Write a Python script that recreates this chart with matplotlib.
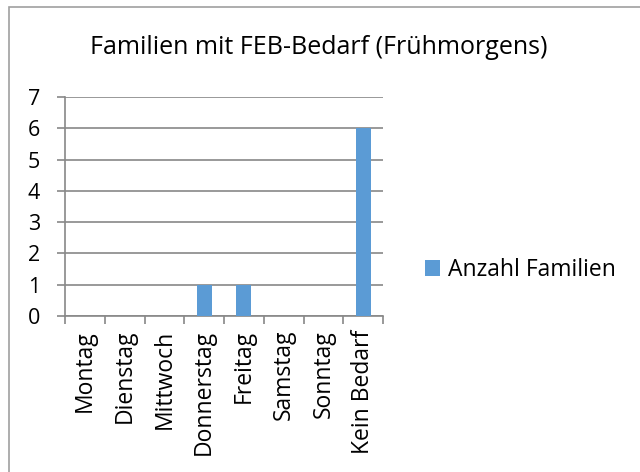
import numpy as np
import matplotlib.pyplot as plt
from matplotlib.patches import Rectangle

# Data
categories = ['Montag', 'Dienstag', 'Mittwoch', 'Donnerstag', 'Freitag',
              'Samstag', 'Sonntag', 'Kein Bedarf']
values = [0, 0, 0, 1, 1, 0, 0, 6]
series_name = 'Anzahl Familien'
title = 'Familien mit FEB-Bedarf (Frühmorgens)'

plt.rcParams['font.family'] = ['Open Sans', 'DejaVu Sans']
grey = '#888888'
blue = '#5B9BD5'

fig = plt.figure(figsize=(6.4, 4.72), dpi=100)
W, H = 640, 472

# outer chart frame (only top/left visible in the reference)
fig.patches.append(Rectangle((9 / W, -0.1), 1.2, 1 - 7 / H + 0.1,
                             transform=fig.transFigure, fill=False,
                             edgecolor='#a0a0a0', linewidth=1.2))

ax = fig.add_axes([65 / W, 1 - 316 / H, (383 - 65) / W, (316 - 97) / H])
x = np.arange(len(categories))
ax.bar(x, values, width=0.38, color=blue, label=series_name, zorder=3)

ax.set_xlim(-0.5, len(categories) - 0.5)
ax.set_ylim(0, 7)
ax.set_yticks(range(0, 8))
ax.yaxis.grid(True, color=grey, linewidth=1.2, zorder=0)
ax.set_axisbelow(True)

# category boundaries as tick marks, labels in between
ax.set_xticks(np.arange(len(categories) + 1) - 0.5)
ax.set_xticklabels([])
ax.set_xticks(x, minor=True)
ax.set_xticklabels(categories, minor=True, rotation=90, fontsize=16.5)
ax.tick_params(axis='x', which='minor', length=0, pad=10)
ax.tick_params(axis='x', which='major', length=6, width=1.2, color=grey)
ax.tick_params(axis='y', length=6, width=1.2, color=grey, labelsize=15.5, pad=12)

for s in ['top', 'right']:
    ax.spines[s].set_visible(False)
for s in ['left', 'bottom']:
    ax.spines[s].set_color(grey)
    ax.spines[s].set_linewidth(1.2)

fig.text(319 / W, 1 - 47 / H, title, ha='center', va='center', fontsize=18)

fig.legend(loc='center left', bbox_to_anchor=(416 / W, 1 - 270 / H),
           frameon=False, fontsize=16.5, handlelength=0.65, handleheight=0.65,
           handletextpad=0.35, borderaxespad=0)

fig.savefig('out.png', dpi=100)
